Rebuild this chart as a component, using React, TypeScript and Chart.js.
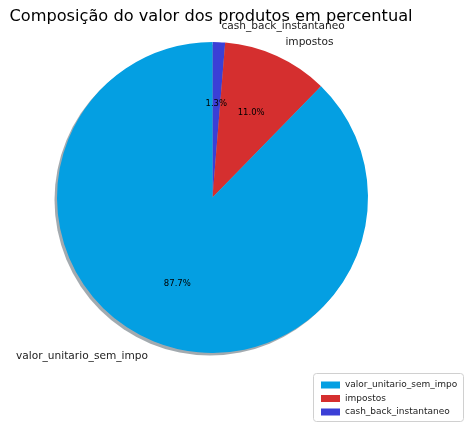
import React, { useEffect, useRef } from "react";
import { Chart, registerables } from "chart.js";

Chart.register(...registerables);

const titleText = "Composição do valor dos produtos em percentual";
// Drawn clockwise from the top (matplotlib counter-clockwise order reversed)
const categories = ["cash_back_instantaneo", "impostos", "valor_unitario_sem_impo"];
const values = [1.3, 11.0, 87.7];
const colors = ["#3b3fd6", "#d52f2f", "#049fe2"];
const legendOrder = ["valor_unitario_sem_impo", "impostos", "cash_back_instantaneo"];

const FONT = "'DejaVu Sans', sans-serif";

const piePlugin = {
  id: "mplPie",
  beforeDatasetsDraw(chart: any) {
    const meta = chart.getDatasetMeta(0);
    const arc = meta.data[0];
    if (!arc) return;
    const { x, y, outerRadius } = arc.getProps(["x", "y", "outerRadius"], true);
    const ctx = chart.ctx;
    ctx.save();
    ctx.fillStyle = "rgba(70,85,95,0.5)";
    ctx.beginPath();
    ctx.arc(x - 2.5, y + 2.5, outerRadius, 0, Math.PI * 2);
    ctx.fill();
    ctx.restore();
  },
  afterDatasetsDraw(chart: any) {
    const ctx = chart.ctx;
    const meta = chart.getDatasetMeta(0);
    ctx.save();
    meta.data.forEach((el: any, i: number) => {
      const { x, y, startAngle, endAngle, outerRadius } = el.getProps(
        ["x", "y", "startAngle", "endAngle", "outerRadius"],
        true
      );
      const mid = (startAngle + endAngle) / 2;
      const cx = Math.cos(mid);
      const cy = Math.sin(mid);
      ctx.fillStyle = "#000";
      ctx.font = `8.5px ${FONT}`;
      ctx.textAlign = "center";
      ctx.textBaseline = "middle";
      ctx.fillText(values[i].toFixed(1) + "%", x + cx * outerRadius * 0.6, y + cy * outerRadius * 0.6);
      ctx.font = `10.6px ${FONT}`;
      ctx.fillStyle = "#222";
      ctx.textAlign = cx > 0 ? "left" : "right";
      ctx.fillText(categories[i], x + cx * outerRadius * 1.1 + (cx > 0 ? 2 : 0), y + cy * outerRadius * 1.1);
    });

    ctx.font = `16.2px ${FONT}`;
    ctx.fillStyle = "#000";
    ctx.textAlign = "center";
    ctx.textBaseline = "alphabetic";
    ctx.fillText(titleText, 211, 21);

    const bx = 313, by = 373, bw = 150, bh = 48;
    ctx.fillStyle = "rgba(255,255,255,0.8)";
    ctx.strokeStyle = "#d0d0d0";
    ctx.lineWidth = 1;
    ctx.beginPath();
    const r = 3;
    ctx.moveTo(bx + r + 0.5, by + 0.5);
    ctx.arcTo(bx + bw + 0.5, by + 0.5, bx + bw + 0.5, by + bh + 0.5, r);
    ctx.arcTo(bx + bw + 0.5, by + bh + 0.5, bx + 0.5, by + bh + 0.5, r);
    ctx.arcTo(bx + 0.5, by + bh + 0.5, bx + 0.5, by + 0.5, r);
    ctx.arcTo(bx + 0.5, by + 0.5, bx + bw + 0.5, by + 0.5, r);
    ctx.closePath();
    ctx.fill();
    ctx.stroke();
    legendOrder.forEach((name, k) => {
      const idx = categories.indexOf(name);
      const ry = 385 + k * 13.5;
      ctx.fillStyle = colors[idx];
      ctx.fillRect(321, ry - 3.5, 19, 7);
      ctx.fillStyle = "#222";
      ctx.font = `9px ${FONT}`;
      ctx.textAlign = "left";
      ctx.textBaseline = "middle";
      ctx.fillText(name, 345, ry);
    });
    ctx.restore();
  },
};

export default function App() {
  const ref = useRef<HTMLCanvasElement | null>(null);
  useEffect(() => {
    document.body.style.margin = "0";
    const canvas = ref.current!;
    const chart = new Chart(canvas, {
      type: "pie",
      data: {
        labels: categories,
        datasets: [
          {
            data: values,
            backgroundColor: colors,
            borderWidth: 0,
          },
        ],
      },
      options: {
        responsive: false,
        animation: false,
        layout: { padding: { left: 57, top: 42, right: 98, bottom: 71 } },
        plugins: {
          legend: { display: false },
          title: { display: false },
          tooltip: { enabled: false },
        },
      },
      plugins: [piePlugin],
    });
    return () => chart.destroy();
  }, []);
  return <canvas ref={ref} width={466} height={424} style={{ display: "block" }} />;
}
